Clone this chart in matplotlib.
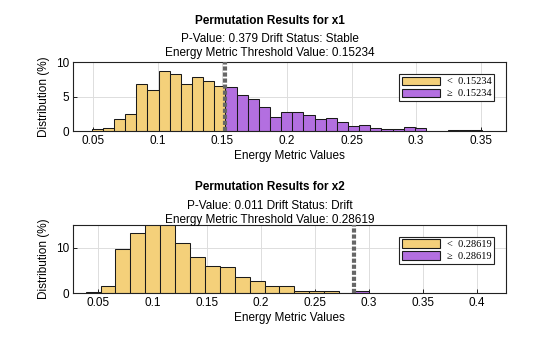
import numpy as np
import matplotlib
matplotlib.use('Agg')
import matplotlib.pyplot as plt
from matplotlib.patches import Patch

# x1: threshold, bin width, bar heights (%) below / above threshold
thr1 = 0.15234
bw1 = 0.00863
low1 = [0.24, 0.39, 1.7, 2.5, 6.8, 6.0, 8.7, 8.25, 6.8, 7.8, 7.3, 6.5]
high1 = [6.36, 5.3, 4.6, 3.5, 2.0, 2.7, 2.7, 2.4, 1.7, 1.9, 1.26, 0.73, 0.83,
         0.39, 0.3, 0.3, 0.53, 0.39, 0, 0, 0.2, 0.2, 0.2]

# x2
thr2 = 0.28619
bw2 = 0.01377
low2 = [0.22, 1.55, 9.8, 13.3, 16.5, 17.5, 11.1, 8.0, 6.0, 5.8, 3.55, 2.6,
        1.7, 1.55, 0.44, 0.44, 0.44, 0]
high2 = [0.5]

yellow = '#F4D07A'
purple = '#B36FE0'

plt.rcParams['font.family'] = ['Liberation Sans', 'DejaVu Sans']

fig = plt.figure(figsize=(5.6, 3.37), dpi=100)


def panel(rect, thr, bw, low, high, xlim, ylim, xticks, yticks, titles, ty):
    ax = fig.add_axes(rect)
    n_low = len(low)
    left_low = thr - bw * np.arange(n_low, 0, -1)
    left_high = thr + bw * np.arange(len(high))
    ax.bar(left_low, low, width=bw, align='edge', color=yellow,
           edgecolor='#1a1a1a', linewidth=0.75, zorder=2)
    ax.bar(left_high, high, width=bw, align='edge', color=purple,
           edgecolor='#1a1a1a', linewidth=0.75, zorder=2)
    ax.axvline(thr, color='#666666', lw=3, linestyle=(0, (1, 0.45)), zorder=3)
    ax.set_xlim(xlim)
    ax.set_ylim(ylim)
    ax.set_xticks(xticks)
    ax.set_xticklabels([('%g' % t) for t in xticks])
    ax.set_yticks(yticks)
    ax.grid(True, color='#dddddd', linewidth=0.7, zorder=0)
    ax.set_axisbelow(True)
    ax.tick_params(direction='in', length=3, labelsize=8.5, width=0.6, pad=3,
                   top=False, right=False)
    for s in ax.spines.values():
        s.set_linewidth(0.8)
        s.set_color('#222222')
    ax.set_xlabel('Energy Metric Values', fontsize=8.5, labelpad=2)
    ax.set_ylabel('Distribution (%)', fontsize=8.5, labelpad=4)
    leg = ax.legend(handles=[Patch(facecolor=yellow, edgecolor='#1a1a1a', lw=0.8),
                             Patch(facecolor=purple, edgecolor='#1a1a1a', lw=0.8)],
                    labels=['<  %.5f' % thr, '\u2265  %.5f' % thr],
                    loc='upper right', bbox_to_anchor=(0.972, 0.83),
                    prop={'family': 'Liberation Serif', 'size': 7.5},
                    fancybox=False, edgecolor='#222222', framealpha=1,
                    handlelength=3.7, handleheight=0.9, handletextpad=0.6,
                    borderpad=0.25, labelspacing=0.2, borderaxespad=0)
    leg.get_frame().set_linewidth(0.8)
    fig.text(270 / 560, 1 - ty[0] / 337, titles[0], ha='center', va='center',
             fontsize=8.5, fontweight='bold')
    fig.text(270 / 560, 1 - ty[1] / 337, titles[1], ha='center', va='center',
             fontsize=8.5)
    fig.text(270 / 560, 1 - ty[2] / 337, titles[2], ha='center', va='center',
             fontsize=8.5)
    return ax


panel([73.3 / 560, 1 - 131 / 337, 432.7 / 560, 68.7 / 337], thr1, bw1, low1, high1,
      (0.0345, 0.3696), (0, 10), [0.05, 0.1, 0.15, 0.2, 0.25, 0.3, 0.35], [0, 5, 10],
      ['Permutation Results for x1', 'P-Value: 0.379 Drift Status: Stable',
       'Energy Metric Threshold Value: 0.15234'], (21, 39, 53))

panel([73.3 / 560, 1 - 293.3 / 337, 432.7 / 560, 68.3 / 337], thr2, bw2, low2, high2,
      (0.0269, 0.4266), (0, 15), [0.05, 0.1, 0.15, 0.2, 0.25, 0.3, 0.35, 0.4], [0, 10],
      ['Permutation Results for x2', 'P-Value: 0.011 Drift Status: Drift',
       'Energy Metric Threshold Value: 0.28619'], (187, 206, 220))

fig.savefig('out.png', dpi=100)
